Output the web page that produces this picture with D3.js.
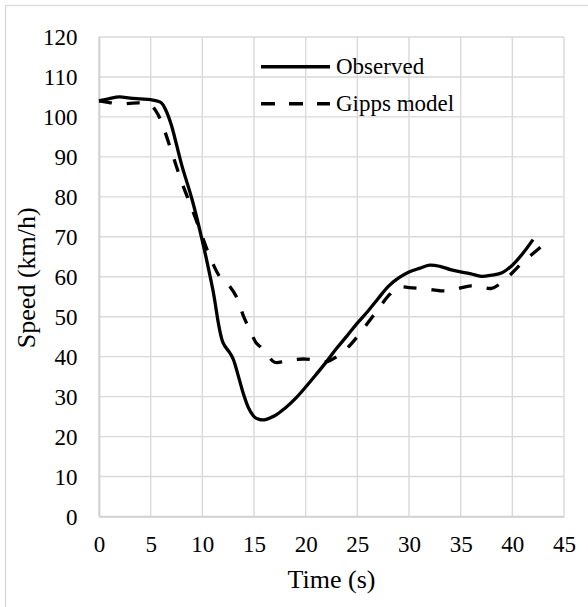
<!DOCTYPE html>
<html>
<head>
<meta charset="utf-8">
<script src="https://cdn.jsdelivr.net/npm/d3@7"></script>
<style>
  html, body { margin: 0; padding: 0; background: #fff; }
  svg { display: block; }
  text { font-family: "Liberation Serif", "Tinos", "Times New Roman", Times, "DejaVu Serif", "Noto Serif", serif; fill: #000; }
</style>
</head>
<body>
<svg id="chart" width="588" height="607"></svg>
<script>
// Speed profiles: time (s) and speed (km/h)
const observedTime  = [0, 1, 2, 3, 4, 5, 6, 6.5, 7, 8, 9, 10, 11, 12, 12.7, 13, 13.5, 14, 14.5, 15, 15.5, 16, 17, 18, 19, 20, 21, 22, 23, 24, 25, 26, 27, 28, 29, 30, 31, 32, 33, 34, 35, 36, 37, 38, 39, 40, 41, 42];
const observedSpeed = [104, 104.6, 105, 104.7, 104.5, 104.3, 103.6, 101.5, 98, 88, 79.4, 69, 57, 43.5, 40.8, 39.3, 35, 30.5, 27, 25, 24.3, 24.2, 25.2, 27.1, 29.5, 32.4, 35.5, 38.7, 42.1, 45.2, 48.4, 51.3, 54.5, 57.6, 59.7, 61.2, 62.1, 62.9, 62.6, 61.8, 61.2, 60.7, 60.1, 60.4, 61, 62.9, 65.8, 69.3];

const gippsTime  = [0, 1, 2, 3, 4, 5, 5.5, 6, 7, 8, 9, 10, 10.5, 11, 11.7, 12.4, 13.3, 14, 14.6, 15.2, 15.6, 16.2, 17, 18, 19, 20, 21, 22, 23, 24, 25, 26, 27, 28, 29, 30, 31, 32, 33, 34, 35, 36, 37, 38, 39, 40, 41, 42, 43];
const gippsSpeed = [104, 103.6, 103.2, 103.4, 103.5, 103, 101.5, 99, 91.5, 83.7, 77, 70, 66.5, 63.4, 60, 58.4, 55, 50, 46.7, 43.5, 42.5, 40.8, 38.6, 38.9, 39.3, 39.4, 39.1, 38.7, 40, 42.1, 45, 48.4, 51.8, 55.2, 57.4, 57.3, 57.1, 56.8, 56.5, 56.5, 57.2, 57.7, 57.4, 57.1, 58.6, 61, 63.6, 65.8, 68];

const xTicks = [0, 5, 10, 15, 20, 25, 30, 35, 40, 45];
const yTicks = [0, 10, 20, 30, 40, 50, 60, 70, 80, 90, 100, 110, 120];
const seriesNames = ["Observed", "Gipps model"];

const FONT = '"Liberation Serif", "Tinos", "Times New Roman", Times, "DejaVu Serif", "Noto Serif", serif';

const svg = d3.select("#chart");
const W = 588, H = 607;
const plot = { left: 99, right: 564, top: 37, bottom: 516.5 };

const x = d3.scaleLinear().domain([0, 45]).range([plot.left, plot.right]);
const y = d3.scaleLinear().domain([0, 120]).range([plot.bottom, plot.top]);

// outer chart border
svg.append("rect")
  .attr("x", 5.5).attr("y", 5.5)
  .attr("width", W).attr("height", H)
  .attr("fill", "none").attr("stroke", "#d9d9d9").attr("stroke-width", 1.3);

// gridlines
const grid = svg.append("g").attr("stroke", "#d9d9d9").attr("stroke-width", 1.4);
grid.selectAll(".gx").data(xTicks).join("line")
  .attr("x1", d => x(d)).attr("x2", d => x(d))
  .attr("y1", plot.top).attr("y2", plot.bottom);
grid.selectAll(".gy").data(yTicks).join("line")
  .attr("x1", plot.left).attr("x2", plot.right)
  .attr("y1", d => y(d)).attr("y2", d => y(d));

// axes: tick labels plus baseline
const xAxis = d3.axisBottom(x).tickValues(xTicks).tickSize(0).tickPadding(0);
const yAxis = d3.axisLeft(y).tickValues(yTicks).tickSize(0).tickPadding(0);

const gx = svg.append("g").attr("transform", `translate(0,${plot.bottom})`).call(xAxis)
  .attr("font-family", FONT).attr("font-size", 23);
gx.select(".domain").attr("stroke", "#cfcfcf").attr("stroke-width", 1.6);
gx.selectAll(".tick text")
  .attr("y", 35.5).attr("dy", null)
  .style("font-family", FONT).style("font-size", "23px").attr("fill", "#000");

const gy = svg.append("g").attr("transform", `translate(${plot.left},0)`).call(yAxis)
  .attr("font-family", FONT).attr("font-size", 23);
gy.select(".domain").attr("stroke", "#cfcfcf").attr("stroke-width", 1.6);
gy.selectAll(".tick text")
  .attr("x", -21.5).attr("dy", "0.33em")
  .style("font-family", FONT).style("font-size", "23px").attr("fill", "#000");

// axis titles
svg.append("text")
  .attr("x", (plot.left + plot.right) / 2).attr("y", 588)
  .attr("text-anchor", "middle").style("font-family", FONT).style("font-size", "26px")
  .text("Time (s)");
svg.append("text")
  .attr("transform", `translate(35,${(plot.top + plot.bottom) / 2 + 1}) rotate(-90)`)
  .attr("text-anchor", "middle").style("font-family", FONT).style("font-size", "26px")
  .text("Speed (km/h)");

// series lines
const line = d3.line()
  .x(d => x(d[0])).y(d => y(d[1]))
  .curve(d3.curveCatmullRom.alpha(0.5));

const observed = d3.zip(observedTime, observedSpeed);
const gipps = d3.zip(gippsTime, gippsSpeed);

svg.append("path").datum(gipps)
  .attr("d", line).attr("fill", "none")
  .attr("stroke", "#000").attr("stroke-width", 3.3)
  .attr("stroke-dasharray", "13,15");

svg.append("path").datum(observed)
  .attr("d", line).attr("fill", "none")
  .attr("stroke", "#000").attr("stroke-width", 3.3)
  .attr("stroke-linejoin", "round");

// legend
const legend = svg.append("g");
const legendRows = [
  { name: seriesNames[0], dash: null, yLine: 66.7 },
  { name: seriesNames[1], dash: "14,14", yLine: 103.7 }
];
legendRows.forEach(r => {
  legend.append("line")
    .attr("x1", 261).attr("x2", 330)
    .attr("y1", r.yLine).attr("y2", r.yLine)
    .attr("stroke", "#000").attr("stroke-width", 3.4)
    .attr("stroke-dasharray", r.dash);
  legend.append("text")
    .attr("x", 336).attr("y", r.yLine + 7.5)
    .style("font-family", FONT).style("font-size", "23px")
    .text(r.name);
});
</script>
</body>
</html>
